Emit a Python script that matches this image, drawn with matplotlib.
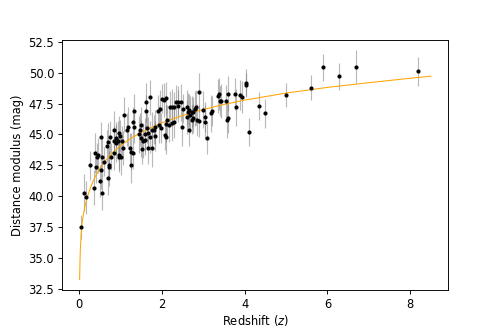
import numpy as np
import matplotlib
matplotlib.use("Agg")
import matplotlib.pyplot as plt

# redshift, distance modulus and 1-sigma error for each object
z = [0.05, 0.12, 0.17, 0.25, 0.35, 0.37, 0.41, 0.43, 0.45, 0.50,
     0.53, 0.53, 0.55, 0.56, 0.61, 0.67, 0.69, 0.69, 0.72, 0.73,
     0.75, 0.77, 0.83, 0.85, 0.85, 0.89, 0.93, 0.95, 0.97, 0.99,
     1.01, 1.04, 1.09, 1.15, 1.18, 1.23, 1.25, 1.26, 1.30, 1.30,
     1.33, 1.47, 1.50, 1.52, 1.54, 1.58, 1.61, 1.62, 1.65, 1.71,
     1.71, 1.76, 1.80, 1.84, 1.90, 1.96, 2.00, 2.05, 2.10, 2.09,
     2.13, 2.16, 2.20, 2.25, 2.30, 2.34, 2.40, 2.46, 2.52, 2.60,
     2.66, 2.68, 2.76, 2.80, 2.84, 2.89, 1.33, 1.50, 1.59, 1.45,
     1.67, 1.76, 1.84, 1.92, 1.66, 1.05, 0.97, 0.89, 2.38, 2.82,
     2.76, 2.64, 2.72, 2.60, 2.72, 2.66, 2.49, 1.98, 2.24, 2.28,
     2.10, 2.08, 2.90, 3.00, 3.03, 3.04, 3.10, 3.19, 3.20, 3.35,
     3.37, 3.41, 3.43, 3.54, 3.57, 3.59, 3.60, 3.77, 3.80, 3.89,
     3.93, 4.03, 4.04, 4.10, 4.35, 4.50, 5.00, 5.60, 5.90, 6.29,
     6.69, 8.20]
mu = [37.5, 40.3, 39.9, 42.5, 40.7, 43.5, 42.4, 43.2, 43.3, 41.2,
      44.8, 42.1, 40.3, 43.2, 42.8, 44.1, 44.4, 41.5, 42.5, 42.4,
      44.8, 43.2, 43.5, 44.5, 45.4, 44.7, 44.5, 43.3, 45.1, 44.9,
      43.2, 44.5, 46.6, 45.4, 45.6, 43.9, 42.5, 43.6, 43.5, 46.0,
      46.9, 45.4, 44.7, 43.8, 44.5, 45.0, 47.6, 46.9, 45.5, 48.0,
      44.8, 43.9, 45.4, 45.6, 46.9, 47.1, 47.9, 47.8, 47.95, 45.85,
      46.2, 45.8, 47.2, 47.2, 47.2, 47.6, 47.6, 47.6, 47.1, 47.2,
      47.0, 46.6, 46.3, 47.1, 46.2, 48.4, 45.6, 45.8, 44.55, 45.0,
      45.1, 45.4, 44.9, 45.8, 43.9, 43.9, 43.2, 44.3, 47.3, 47.2,
      46.85, 46.85, 46.85, 46.4, 46.2, 45.4, 45.6, 45.5, 45.9, 46.0,
      44.8, 44.95, 46.1, 47.0, 46.4, 46.0, 44.7, 46.7, 46.9, 48.1,
      48.3, 47.7, 47.7, 47.7, 46.2, 46.3, 48.3, 48.3, 47.2, 48.2,
      48.0, 49.2, 49.0, 45.2, 47.3, 46.7, 48.2, 48.8, 50.45, 49.7,
      50.5, 50.1]
mu_err = [1.0, 1.5, 1.3, 1.2, 1.4, 1.6, 1.3, 1.1, 1.4, 1.3,
          1.2, 1.5, 1.4, 1.6, 1.2, 1.3, 1.5, 1.4, 1.2, 1.6,
          1.3, 1.1, 1.4, 1.2, 1.5, 1.3, 1.6, 1.2, 1.4, 1.3,
          1.5, 1.2, 1.4, 1.3, 1.6, 1.2, 1.4, 1.5, 1.3, 1.2,
          1.4, 1.3, 1.5, 1.2, 1.4, 1.3, 1.6, 1.3, 1.2, 1.4,
          1.3, 1.5, 1.2, 1.4, 1.3, 1.5, 1.2, 1.4, 1.3, 1.5,
          1.2, 1.4, 1.3, 1.5, 1.2, 1.4, 1.3, 1.5, 1.2, 1.4,
          1.3, 1.5, 1.2, 1.4, 1.3, 1.6, 1.3, 1.4, 1.2, 1.5,
          1.3, 1.4, 1.2, 1.5, 1.3, 1.4, 1.2, 1.5, 1.3, 1.4,
          1.2, 1.5, 1.3, 1.4, 1.2, 1.3, 1.5, 1.2, 1.4, 1.3,
          1.4, 1.2, 1.3, 1.5, 1.2, 1.4, 1.3, 1.5, 1.2, 1.4,
          1.3, 1.2, 1.4, 1.3, 1.5, 1.2, 1.4, 1.3, 1.5, 1.2,
          1.3, 1.1, 1.0, 1.1, 1.1, 1.15, 1.0, 1.0, 1.1, 1.1,
          1.3, 1.2]

# model curve
z_model = [0.01, 0.02, 0.03, 0.05, 0.07, 0.1, 0.15, 0.2, 0.3, 0.4,
           0.5, 0.6, 0.8, 1.0, 1.25, 1.5, 2.0, 2.5, 3.0, 3.5,
           4.0, 5.0, 6.0, 7.0, 8.0, 8.5]
mu_model = [33.25, 34.9, 35.9, 37.1, 37.8, 38.5, 39.35, 39.98, 40.94, 41.67,
            42.26, 42.74, 43.51, 44.10, 44.69, 45.17, 45.95, 46.54, 47.02, 47.43,
            47.78, 48.35, 48.81, 49.19, 49.55, 49.72]

fig = plt.figure(figsize=(6, 4), dpi=83)
ax = fig.add_subplot(111)
fig.subplots_adjust(left=0.125, right=0.9, top=0.88, bottom=0.127)

ax.errorbar(z, mu, yerr=mu_err, fmt='none', ecolor='gray', alpha=0.55, elinewidth=1)
ax.plot(z_model, mu_model, color='orange', lw=0.9)
ax.plot(z, mu, 'o', color='black', ms=2.6)

ax.set_xlim(-0.41, 8.92)
ax.set_ylim(32.42, 52.66)
ax.set_yticks(np.arange(32.5, 52.6, 2.5))
ax.set_xlabel(r'Redshift ($z$)', labelpad=2)
ax.set_ylabel('Distance modulus (mag)')

plt.savefig('out.png', dpi=83)
